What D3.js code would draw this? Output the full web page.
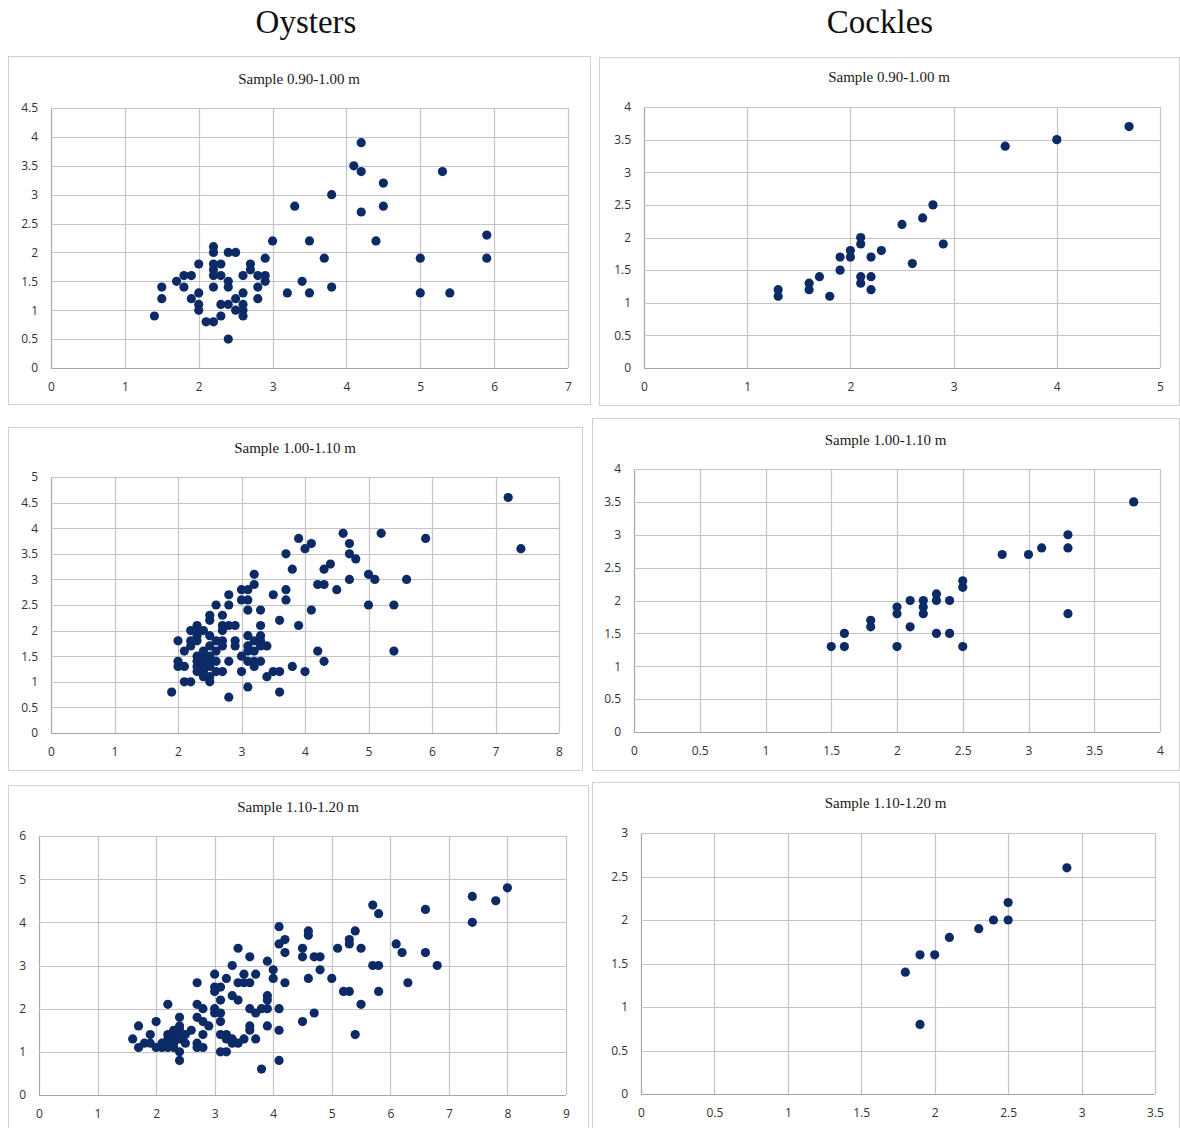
<!DOCTYPE html>
<html>
<head>
<meta charset="utf-8">
<script src="https://cdn.jsdelivr.net/npm/d3@7"></script>
<style>
  body { margin: 0; background: #fff; }
  .tick text { font-family: "Open Sans", "Noto Sans", sans-serif; font-size: 12px; fill: #333; }
</style>
</head>
<body>
<svg width="1180" height="1128"></svg>
<script>
// values, [x, y] per point
const oysters1 = [
  [1.4,0.9],[1.5,1.4],[1.5,1.2],[1.7,1.5],[1.8,1.6],[1.8,1.4],[1.9,1.6],[1.9,1.2],
  [2.0,1.8],[2.0,1.3],[2.0,1.1],[2.0,1.0],[2.1,0.8],[2.2,0.8],[2.2,2.1],[2.2,2.0],
  [2.2,1.8],[2.2,1.7],[2.2,1.6],[2.2,1.4],[2.3,1.8],[2.3,1.6],[2.3,1.1],[2.3,0.9],
  [2.4,2.0],[2.4,1.5],[2.4,1.4],[2.4,1.1],[2.4,0.5],[2.5,2.0],[2.5,1.2],[2.5,1.0],
  [2.6,1.6],[2.6,1.3],[2.6,1.1],[2.6,1.0],[2.6,0.9],[2.7,1.8],[2.7,1.7],[2.8,1.6],
  [2.8,1.4],[2.8,1.2],[2.9,1.9],[2.9,1.6],[2.9,1.5],[3.0,2.2],[3.2,1.3],[3.3,2.8],
  [3.4,1.5],[3.5,1.3],[3.5,2.2],[3.7,1.9],[3.8,1.4],[3.8,3.0],[4.1,3.5],[4.2,3.4],
  [4.2,3.9],[4.2,2.7],[4.5,3.2],[4.5,2.8],[4.4,2.2],[5.0,1.9],[5.0,1.3],[5.3,3.4],
  [5.4,1.3],[5.9,2.3],[5.9,1.9]
];
const cockles1 = [
  [1.3,1.2],[1.3,1.1],[1.6,1.3],[1.6,1.2],[1.7,1.4],[1.8,1.1],[1.9,1.7],[1.9,1.5],
  [2.0,1.8],[2.0,1.7],[2.1,2.0],[2.1,1.9],[2.1,1.4],[2.1,1.3],[2.2,1.7],[2.2,1.4],
  [2.2,1.2],[2.3,1.8],[2.5,2.2],[2.6,1.6],[2.7,2.3],[2.8,2.5],[2.9,1.9],[3.5,3.4],
  [4.0,3.5],[4.7,3.7]
];
const oysters2 = [
  [1.9,0.8],[2.0,1.8],[2.0,1.4],[2.0,1.3],[2.1,1.3],[2.1,1.6],[2.1,1.0],[2.2,1.0],
  [2.2,1.7],[2.2,2.0],[2.2,1.8],[2.3,2.1],[2.3,2.0],[2.3,1.9],[2.3,1.8],[2.3,1.5],
  [2.3,1.4],[2.3,1.3],[2.3,1.2],[2.4,2.0],[2.4,1.6],[2.4,1.5],[2.4,1.4],[2.4,1.3],
  [2.4,1.2],[2.4,1.1],[2.5,1.9],[2.5,1.5],[2.5,1.4],[2.5,1.3],[2.5,1.1],[2.5,1.0],
  [2.5,2.2],[2.5,2.3],[2.5,1.7],[2.6,2.5],[2.6,1.8],[2.6,1.6],[2.6,1.4],[2.6,1.2],
  [2.7,2.3],[2.7,2.1],[2.7,2.0],[2.7,1.8],[2.7,1.7],[2.7,1.2],[2.8,2.7],[2.8,2.5],
  [2.8,2.1],[2.8,1.4],[2.8,0.7],[2.9,2.1],[2.9,1.8],[2.9,1.7],[3.0,2.8],[3.0,2.6],
  [3.0,1.5],[3.0,1.2],[3.1,2.8],[3.1,2.6],[3.1,2.4],[3.1,1.9],[3.1,1.7],[3.1,1.6],
  [3.1,1.4],[3.1,0.9],[3.2,3.1],[3.2,2.9],[3.2,1.8],[3.2,1.6],[3.2,1.4],[3.2,1.3],
  [3.3,2.4],[3.3,2.1],[3.3,1.9],[3.3,1.8],[3.3,1.4],[3.3,1.7],[3.4,1.7],[3.4,1.1],
  [3.5,2.7],[3.5,1.2],[3.6,1.2],[3.6,0.8],[3.6,2.2],[3.7,3.5],[3.7,2.8],[3.7,2.6],
  [3.8,3.2],[3.8,1.3],[3.9,3.8],[3.9,2.1],[4.0,3.6],[4.1,3.7],[4.3,3.2],[4.4,3.3],
  [4.2,2.9],[4.3,2.9],[4.5,2.8],[4.1,2.4],[4.2,1.6],[4.3,1.4],[4.0,1.2],[4.6,3.9],
  [4.7,3.7],[4.7,3.5],[4.8,3.4],[4.7,3.0],[5.0,3.1],[5.1,3.0],[5.0,2.5],[5.2,3.9],
  [5.6,3.0],[5.4,2.5],[5.4,1.6],[5.9,3.8],[7.2,4.6],[7.4,3.6]
];
const cockles2 = [
  [1.5,1.3],[1.6,1.3],[1.6,1.5],[1.8,1.7],[1.8,1.6],[2.0,1.9],[2.0,1.8],[2.0,1.3],
  [2.1,2.0],[2.1,1.6],[2.2,2.0],[2.2,1.9],[2.2,1.8],[2.3,2.1],[2.3,2.0],[2.3,1.5],
  [2.4,2.0],[2.4,1.5],[2.5,2.3],[2.5,2.2],[2.5,1.3],[2.8,2.7],[3.0,2.7],[3.1,2.8],
  [3.3,3.0],[3.3,2.8],[3.3,1.8],[3.8,3.5]
];
const oysters3 = [
  [1.6,1.3],[1.7,1.6],[1.7,1.1],[1.8,1.2],[1.9,1.4],[1.9,1.2],[2.0,1.7],[2.0,1.1],
  [2.1,1.2],[2.1,1.1],[2.2,2.1],[2.2,1.4],[2.2,1.3],[2.2,1.2],[2.2,1.1],[2.3,1.5],
  [2.3,1.4],[2.3,1.3],[2.3,1.2],[2.3,1.1],[2.4,1.8],[2.4,1.6],[2.4,1.5],[2.4,1.4],
  [2.4,1.3],[2.4,1.0],[2.4,0.8],[2.5,1.4],[2.5,1.2],[2.6,1.5],[2.7,2.6],[2.7,2.1],
  [2.7,1.8],[2.7,1.2],[2.7,1.1],[2.8,2.0],[2.8,1.7],[2.8,1.4],[2.8,1.1],[2.9,1.6],
  [3.0,2.8],[3.0,2.5],[3.0,2.4],[3.0,2.0],[3.0,1.9],[3.1,2.5],[3.1,2.2],[3.1,1.9],
  [3.1,1.7],[3.1,1.4],[3.1,1.0],[3.2,2.7],[3.2,1.4],[3.2,1.3],[3.2,1.0],[3.3,3.0],
  [3.3,2.3],[3.3,1.2],[3.3,1.3],[3.4,3.4],[3.4,2.6],[3.4,2.2],[3.4,1.2],[3.5,2.8],
  [3.5,2.6],[3.5,1.3],[3.6,3.2],[3.6,2.6],[3.6,2.0],[3.6,1.6],[3.6,1.5],[3.7,2.8],
  [3.7,1.9],[3.7,1.3],[3.8,0.6],[3.8,2.0],[3.9,3.1],[3.9,2.3],[3.9,2.2],[3.9,2.0],
  [3.9,1.6],[4.0,2.9],[4.0,2.7],[4.1,3.9],[4.1,3.5],[4.2,3.6],[4.2,3.3],[4.2,2.6],
  [4.1,2.0],[4.1,1.5],[4.1,0.8],[4.5,3.4],[4.5,3.2],[4.6,3.8],[4.6,3.7],[4.7,3.2],
  [4.8,3.2],[4.8,2.9],[4.6,2.7],[4.5,1.7],[4.7,1.9],[5.0,2.7],[5.1,3.4],[5.3,3.6],
  [5.3,3.5],[5.4,3.8],[5.5,3.4],[5.2,2.4],[5.3,2.4],[5.5,2.1],[5.4,1.4],[5.7,4.4],
  [5.8,4.2],[5.7,3.0],[5.8,3.0],[5.8,2.4],[6.1,3.5],[6.2,3.3],[6.3,2.6],[6.6,4.3],
  [6.6,3.3],[6.8,3.0],[7.4,4.6],[7.4,4.0],[7.8,4.5],[8.0,4.8]
];
const cockles3 = [
  [1.8,1.4],[1.9,1.6],[1.9,0.8],[2.0,1.6],[2.1,1.8],[2.3,1.9],[2.4,2.0],[2.5,2.0],
  [2.5,2.2],[2.9,2.6]
];

const columnTitles = ["Oysters", "Cockles"];
const sampleTitles = ["Sample 0.90-1.00 m", "Sample 1.00-1.10 m", "Sample 1.10-1.20 m"];

// tick labels of each chart
const xTicksO1 = [0, 1, 2, 3, 4, 5, 6, 7];
const yTicksO1 = [0, 0.5, 1, 1.5, 2, 2.5, 3, 3.5, 4, 4.5];
const xTicksC1 = [0, 1, 2, 3, 4, 5];
const yTicksC1 = [0, 0.5, 1, 1.5, 2, 2.5, 3, 3.5, 4];
const xTicksO2 = [0, 1, 2, 3, 4, 5, 6, 7, 8];
const yTicksO2 = [0, 0.5, 1, 1.5, 2, 2.5, 3, 3.5, 4, 4.5, 5];
const xTicksC2 = [0, 0.5, 1, 1.5, 2, 2.5, 3, 3.5, 4];
const yTicksC2 = [0, 0.5, 1, 1.5, 2, 2.5, 3, 3.5, 4];
const xTicksO3 = [0, 1, 2, 3, 4, 5, 6, 7, 8, 9];
const yTicksO3 = [0, 1, 2, 3, 4, 5, 6];
const xTicksC3 = [0, 0.5, 1, 1.5, 2, 2.5, 3, 3.5];
const yTicksC3 = [0, 0.5, 1, 1.5, 2, 2.5, 3];

// layout: box = [x, y, w, h], plot = [left, top, right, bottom], ty = title baseline
const panels = [
  { title: sampleTitles[0], data: oysters1, xt: xTicksO1, yt: yTicksO1, box: [8, 56, 582, 348], plot: [51, 108, 568, 368], ty: 84 },
  { title: sampleTitles[0], data: cockles1, xt: xTicksC1, yt: yTicksC1, box: [599, 57, 580, 348], plot: [644, 107, 1160, 368], ty: 82 },
  { title: sampleTitles[1], data: oysters2, xt: xTicksO2, yt: yTicksO2, box: [8, 427, 574, 343], plot: [51, 477, 559, 733], ty: 453 },
  { title: sampleTitles[1], data: cockles2, xt: xTicksC2, yt: yTicksC2, box: [592, 418, 587, 352], plot: [634, 469, 1160, 732], ty: 445 },
  { title: sampleTitles[2], data: oysters3, xt: xTicksO3, yt: yTicksO3, box: [8, 785, 580, 360], plot: [39, 836, 566, 1095], ty: 812 },
  { title: sampleTitles[2], data: cockles3, xt: xTicksC3, yt: yTicksC3, box: [592, 782, 587, 360], plot: [641, 833, 1155, 1094], ty: 808 }
];

let svg = d3.select("svg");

svg
  .selectAll("text.col-title")
  .data(columnTitles)
  .enter()
  .append("text")
  .attr("class", "col-title")
  .attr("x", (d, i) => (i === 0 ? 306 : 880))
  .attr("y", 33)
  .attr("text-anchor", "middle")
  .attr("font-family", "'Liberation Serif', 'DejaVu Serif', serif")
  .attr("font-size", "33px")
  .attr("fill", "#111")
  .text((d) => d);

panels.forEach((p) => {
  let g = svg.append("g");
  let [bx, by, bw, bh] = p.box;
  let [left, top, right, bottom] = p.plot;

  g.append("rect")
    .attr("x", bx + 0.5)
    .attr("y", by + 0.5)
    .attr("width", bw)
    .attr("height", bh)
    .attr("fill", "#fff")
    .attr("stroke", "#d0d0d0");

  g.append("text")
    .attr("x", bx + bw / 2)
    .attr("y", p.ty)
    .attr("text-anchor", "middle")
    .attr("font-family", "'Liberation Serif', 'DejaVu Serif', serif")
    .attr("font-size", "15px")
    .attr("fill", "#1a1a1a")
    .text(p.title);

  let x = d3.scaleLinear().domain([0, d3.max(p.xt)]).range([left, right]);
  let y = d3.scaleLinear().domain([0, d3.max(p.yt)]).range([bottom, top]);

  // grid
  g.selectAll("line.vgrid")
    .data(p.xt)
    .enter()
    .append("line")
    .attr("class", "vgrid")
    .attr("x1", (d) => Math.round(x(d)) + 0.5)
    .attr("x2", (d) => Math.round(x(d)) + 0.5)
    .attr("y1", top)
    .attr("y2", bottom)
    .attr("stroke", (d) => (d === 0 ? "#a6a6a6" : "#c4c4c4"))
    .attr("stroke-width", 1.2);

  g.selectAll("line.hgrid")
    .data(p.yt)
    .enter()
    .append("line")
    .attr("class", "hgrid")
    .attr("x1", left)
    .attr("x2", right)
    .attr("y1", (d) => Math.round(y(d)) + 0.5)
    .attr("y2", (d) => Math.round(y(d)) + 0.5)
    .attr("stroke", (d) => (d === 0 ? "#a6a6a6" : "#c4c4c4"))
    .attr("stroke-width", 1.2);

  // axes, labels only
  let xAxis = g.append("g")
    .attr("transform", "translate(0," + bottom + ")")
    .call(d3.axisBottom(x).tickValues(p.xt).tickFormat(d3.format("~g")).tickSize(0).tickPadding(14));
  xAxis.select(".domain").remove();

  let yAxis = g.append("g")
    .attr("transform", "translate(" + left + ",0)")
    .call(d3.axisLeft(y).tickValues(p.yt).tickFormat(d3.format("~g")).tickSize(0).tickPadding(13));
  yAxis.select(".domain").remove();

  g.selectAll("circle")
    .data(p.data)
    .enter()
    .append("circle")
    .attr("cx", (d) => x(d[0]))
    .attr("cy", (d) => y(d[1]))
    .attr("r", 4.6)
    .attr("fill", "#0b2a66");
});
</script>
</body>
</html>
